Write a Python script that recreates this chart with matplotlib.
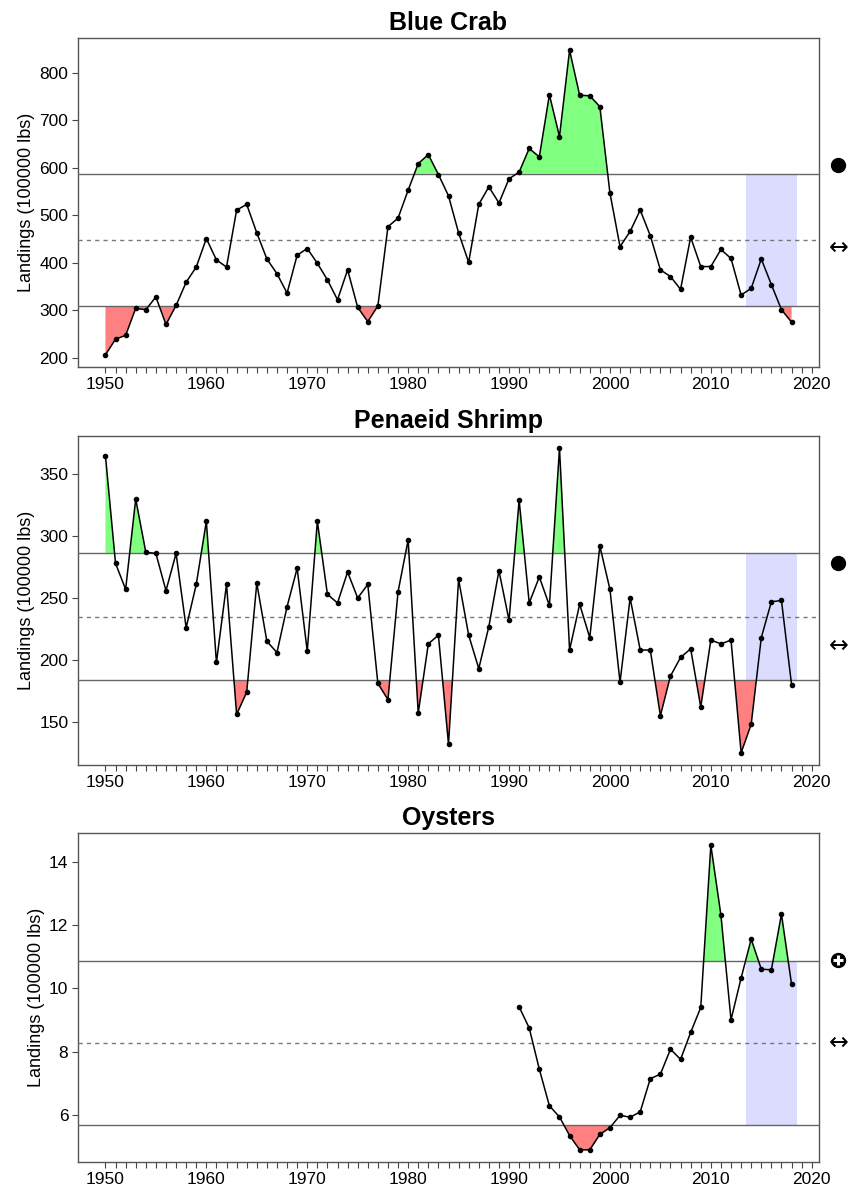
import numpy as np
import matplotlib
matplotlib.use("Agg")
import matplotlib.pyplot as plt

plt.rcParams['font.family'] = ['Liberation Sans', 'DejaVu Sans']

# ---- data (landings, 100000 lbs) ----
crab_years = np.arange(1950, 2019)
crab = [206, 239, 247, 304, 301, 328, 270, 310, 359, 391,
        451, 406, 391, 511, 523, 463, 408, 377, 336, 416,
        430, 399, 364, 322, 385, 306, 276, 309, 476, 494,
        553, 609, 628, 586, 541, 463, 401, 523, 560, 526,
        577, 591, 641, 623, 754, 666, 848, 753, 752, 729,
        547, 434, 466, 511, 457, 385, 371, 344, 454, 392,
        392, 428, 409, 332, 346, 408, 354, 301, 275]

shrimp_years = np.arange(1950, 2019)
shrimp = [365, 278, 257, 330, 287, 286, 256, 286, 226, 261,
          312, 198, 261, 156, 174, 262, 215, 206, 243, 274,
          207, 312, 253, 246, 271, 250, 261, 181, 168, 255,
          297, 157, 213, 220, 132, 265, 220, 193, 227, 272,
          232, 329, 246, 267, 244, 371, 208, 245, 218, 292,
          257, 182, 250, 208, 208, 155, 187, 202, 209, 162,
          216, 213, 216, 125, 148, 218, 247, 248, 180]

oyster_years = np.arange(1991, 2019)
oysters = [9.42, 8.75, 7.45, 6.29, 5.94, 5.35, 4.90, 4.90, 5.39, 5.60,
           5.99, 5.93, 6.10, 7.15, 7.29, 8.08, 7.76, 8.61, 9.40, 14.53,
           12.32, 9.01, 10.33, 11.56, 10.61, 10.59, 12.35, 10.13]

titles = ["Blue Crab", "Penaeid Shrimp", "Oysters"]
series = [(crab_years, crab), (shrimp_years, shrimp), (oyster_years, oysters)]
status = ["dot", "dot", "plus"]
yticks = [[200, 300, 400, 500, 600, 700, 800],
          [150, 200, 250, 300, 350],
          [6, 8, 10, 12, 14]]

fig = plt.figure(figsize=(8.53, 11.88), dpi=100)
left, width = 78 / 853, 741 / 853
bottoms = [1 - 367 / 1188, 1 - 765 / 1188, 1 - 1162 / 1188]
height = 329 / 1188

for i in range(3):
    yrs, vals = series[i]
    yrs = np.asarray(yrs, dtype=float)
    vals = np.asarray(vals, dtype=float)
    ax = fig.add_axes([left, bottoms[i], width, height])

    mu = vals.mean()
    sd = vals.std(ddof=1)
    hi, lo = mu + sd, mu - sd

    # last five years shading
    ax.fill_between([yrs[-5] - 0.5, yrs[-1] + 0.5], lo, hi,
                    color='#dcdcff', lw=0, zorder=1)

    ax.fill_between(yrs, vals, hi, where=vals > hi, interpolate=True,
                    color='#80ff80', lw=0, zorder=2)
    ax.fill_between(yrs, vals, lo, where=vals < lo, interpolate=True,
                    color='#ff8080', lw=0, zorder=2)

    ax.axhline(hi, color='#666666', lw=1, zorder=3)
    ax.axhline(lo, color='#666666', lw=1, zorder=3)
    ax.axhline(mu, color='#777777', lw=1, ls=(0, (3, 3)), zorder=3)

    ax.plot(yrs, vals, color='black', lw=1.1, marker='o', ms=3, zorder=4)

    # x range as R: data range of all years +4%
    x0, x1 = 1950, 2018
    xr = (x1 - x0) * 0.04
    ax.set_xlim(x0 - xr, x1 + xr)
    yr = (vals.max() - vals.min()) * 0.04
    ax.set_ylim(vals.min() - yr, vals.max() + yr)

    ax.set_xticks(np.arange(1950, 2021))
    ax.set_xticklabels([str(y) if y % 10 == 0 else '' for y in range(1950, 2021)])
    ax.set_yticks(yticks[i])
    ax.tick_params(axis='both', labelsize=12.5, length=4, width=0.8,
                   color='#444444', pad=3)
    for s in ax.spines.values():
        s.set_color('#555555')
        s.set_linewidth(1)

    ax.set_ylabel("Landings (100000 lbs)", fontsize=13, labelpad=3)
    ax.set_title(titles[i], fontsize=18, fontweight='bold', pad=6)

    # status symbols right of the panel
    if status[i] == "dot":
        ax.plot([1.026], [0.615], 'o', color='black', ms=10,
                transform=ax.transAxes, clip_on=False)
    else:
        ax.plot([1.026], [0.615], 'o', color='black', ms=10,
                transform=ax.transAxes, clip_on=False)
        ax.plot([1.026], [0.615], '+', color='white', ms=7, mew=2.2,
                transform=ax.transAxes, clip_on=False)
    ax.text(1.026, 0.363, '\u2194', transform=ax.transAxes, ha='center',
            va='center', fontsize=17, family=['DejaVu Sans'])

fig.savefig("out.png", dpi=100)
